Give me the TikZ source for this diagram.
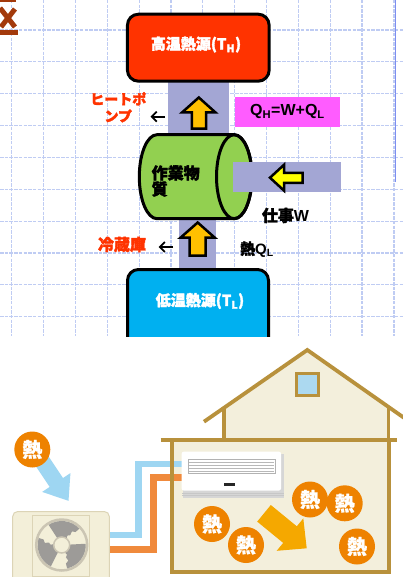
\documentclass[tikz,border=0pt]{standalone}
\usepackage{fontspec}
\setmainfont{Liberation Sans}
\newfontfamily\jpb{Noto Sans CJK JP}[FakeBold=2.2]
\newfontfamily\jpm{Noto Sans CJK JP}[FakeBold=1]
\usetikzlibrary{arrows.meta}

\definecolor{hotred}{HTML}{FF3300}
\definecolor{coldblue}{HTML}{00B0F0}
\definecolor{cylgreen}{HTML}{92D050}
\definecolor{band}{HTML}{A3A6D4}
\definecolor{qpink}{HTML}{FF5CFF}
\definecolor{heatgold}{HTML}{FFC000}
\definecolor{workyellow}{HTML}{FFFF00}
\definecolor{gridblue}{HTML}{BFCCF3}
\definecolor{ruleblue}{HTML}{7D8EF0}
\definecolor{iconbrown}{HTML}{A33A0C}
\definecolor{housetan}{HTML}{B8913C}
\definecolor{housecream}{HTML}{F3EFDC}
\definecolor{windowblue}{HTML}{ACD9F0}
\definecolor{pipeblue}{HTML}{9ED6F2}
\definecolor{pipeorange}{HTML}{F08A3C}
\definecolor{heatorange}{HTML}{EE8200}
\definecolor{flowarrow}{HTML}{F5A800}
\definecolor{unitcream}{HTML}{F3EFD9}
\definecolor{unitedge}{HTML}{DCD4B6}
\definecolor{fanring}{HTML}{CBC5B3}
\definecolor{fanblade}{HTML}{9D9B98}

\tikzset{
  gridline/.style={draw=gridblue, line width=1.2pt, dash pattern=on 3.5pt off 1.2pt},
  srcbox/.style={draw=black, line width=3pt, rounded corners=11pt, inner sep=0pt},
  blockarrow/.style={draw=black, line width=2.5pt, line join=miter},
  chev/.style={line width=1.8pt, -{Straight Barb[length=5pt,width=10pt]}},
  cjkbold/.style={font=\jpb\bfseries\fontsize{#1}{#1}\selectfont},
  redlabel/.style={text=hotred, align=center, font=\jpb\bfseries\fontsize{14}{17}\selectfont},
  heat/.style={circle, fill=heatorange, minimum size=36pt, inner sep=0pt, text=white,
    font=\jpm\bfseries\fontsize{20}{20}\selectfont},
  pipe/.style={line width=6.5pt, line join=miter},
  housetrim/.style={draw=housetan, line width=4pt},
}

\begin{document}
\begin{tikzpicture}[x=1pt, y=-1pt]
\useasboundingbox (0,0) rectangle (403,577);
\fill[white] (0,0) rectangle (403,577);

% ---------- slide part: background grid ----------
\begin{scope}
  \clip (0,0) rectangle (403,336);
  \foreach \i in {0,...,12}
    \draw[gridline] ({11.7+31.85*\i},0) -- ({11.7+31.85*\i},336);
  \foreach \j in {0,...,9}
    \draw[gridline] (0,{30+31.85*\j}) -- (403,{30+31.85*\j});
\end{scope}
\draw[ruleblue, line width=1.4pt] (395.7,0) -- (395.7,182);

% corner glyph fragment
\fill[iconbrown] (0,0) rectangle (16,2);
\fill[iconbrown] (0,30.5) rectangle (17.5,35.5);
\draw[iconbrown, line width=5pt] (0,8) -- (15,27);
\draw[iconbrown, line width=5pt] (15,9) -- (1,27);

% flow bands
\fill[band] (168,80) rectangle (229,140);
\fill[band] (179,212) rectangle (215.7,270);

% heat reservoirs
\node[srcbox, fill=hotred, minimum width=141.7pt, minimum height=67pt] (hot) at (198.3,47.7) {};
\node[cjkbold=15, text=white] (hotlabel) at (196,44.5) {高温熱源(\textbf{T}\textsubscript{\textbf{H}})};

\begin{scope}
  \clip (0,0) rectangle (403,336);
  \node[srcbox, fill=coldblue, minimum width=141pt, minimum height=80pt] (cold) at (198,309.5) {};
\end{scope}
\node[cjkbold=15, text=white] (coldlabel) at (200,301) {低温熱源(\textbf{T}\textsubscript{\textbf{L}})};

% working substance (cylinder)
\filldraw[fill=cylgreen, draw=black, line width=3pt]
  (157,134.7) -- (234.2,134.7)
  arc[start angle=-90, end angle=90, x radius=17.7, y radius=42]
  -- (157,218.7)
  arc[start angle=90, end angle=270, x radius=17.7, y radius=42] -- cycle;
\draw[line width=3pt] (234.2,176.7) ellipse[x radius=17.7, y radius=42];
\node[cjkbold=16, anchor=west, align=left, inner sep=0pt] (substance) at (151.5,181)
  {\fontsize{16}{19.5}\selectfont 作業物\\質};

% work input band and arrow
\fill[band] (233,162) rectangle (340.7,191.7);
\filldraw[blockarrow, fill=workyellow]
  (270,177.7) -- (284,164.8) -- (284,173) -- (302.7,173) -- (302.7,183)
  -- (284,183) -- (284,190.6) -- cycle;

% heat flow arrows
\filldraw[blockarrow, fill=heatgold]
  (198.8,97.5) -- (215.5,112.5) -- (206,112.5) -- (206,128.7)
  -- (191.8,128.7) -- (191.8,112.5) -- (182,112.5) -- cycle;
\filldraw[blockarrow, fill=heatgold]
  (197.7,222.5) -- (214.8,237.7) -- (205.5,237.7) -- (205.5,255.5)
  -- (189.5,255.5) -- (189.5,237.7) -- (180.5,237.7) -- cycle;

% labels
\node[fill=qpink, minimum width=105pt, minimum height=29.7pt, inner sep=0pt,
      font=\bfseries\fontsize{16}{16}\selectfont] (qh) at (287.5,111.8)
  {Q\textsubscript{H}=W+Q\textsubscript{L}};
\node[font=\bfseries\fontsize{16}{16}\selectfont] (work) at (285.5,215.5) {{\jpb 仕事}W};
\node[font=\bfseries\fontsize{15}{15}\selectfont] (ql) at (257,249.5) {{\jpb 熱}Q\textsubscript{L}};
\node[redlabel] (heatpump) at (118.3,107.3) {ヒートポ\\ンプ};
\node[redlabel, font=\jpb\bfseries\fontsize{16}{16}\selectfont] (fridge) at (122,244.5) {冷蔵庫};

\coordinate (hpFrom) at (165,116.7);
\coordinate (hpTo) at (150.5,116.7);
\draw[chev] (hpFrom) -- (hpTo);
\coordinate (frFrom) at (173,247);
\coordinate (frTo) at (158.5,247);
\draw[chev] (frFrom) -- (frTo);

% ---------- house illustration ----------
% upper storey
\fill[housecream] (224,407.8) -- (307.3,350) -- (388.3,406.3) -- (388.3,440) -- (224,440) -- cycle;
\draw[housetan, line width=3.8pt] (204,421.7) -- (307.3,350) -- (410,422);
\draw[housetan, line width=3.5pt] (224,407) -- (224,440);
\draw[housetan, line width=3.5pt] (388.3,406) -- (388.3,440);
\filldraw[fill=windowblue, draw=housetan, line width=3.5pt] (296.7,373.4) rectangle (318.3,395.6);

% ground floor
\fill[housecream] (171.7,440) rectangle (388.8,571.5);

% refrigerant pipes
\draw[pipe, pipeblue] (105,535) -- (138.3,535) -- (138.3,464) -- (186,464);
\draw[pipe, pipeorange] (105,549.3) -- (153.3,549.3) -- (153.3,477.7) -- (186,477.7);

\draw[housetrim] (171.7,440) rectangle (388.8,571.5);
\draw[housetan, line width=4.5pt] (160.7,440) -- (396.7,440);

% indoor unit
\fill[black!16] (183,454) rectangle (284,497.5);
\fill[white, rounded corners=2pt] (181.7,451.7) rectangle (281,490.5);
\draw[black!22, line width=0.8pt] (182,493) -- (283.5,493);
\draw[black!22, line width=0.8pt] (182,495.8) -- (283.8,495.8);
\filldraw[fill=white, draw=black!30, line width=1pt] (188.3,459.3) rectangle (275,473.3);
\foreach \yy in {462.3,465.3,468.3,471}
  \draw[black!28, line width=0.9pt] (189,\yy) -- (274.3,\yy);
\fill[black!85] (224.3,482.7) rectangle (235,485.7);

% outdoor unit
\filldraw[fill=unitcream, draw=unitedge, line width=1pt, rounded corners=5pt] (12.7,511.5) rectangle (109.3,590);
\draw[unitedge, line width=1pt] (32.7,515) rectangle (89.3,576.5);
\filldraw[fill=unitcream, draw=fanring, line width=2.5pt] (61.7,545) circle[radius=25.5];
\foreach \ang in {75,195,315}{
  \begin{scope}[shift={(61.7,545)}, rotate=\ang]
    \fill[fanblade] (-48:8) -- (-48:24) arc[start angle=-48, end angle=32, radius=24]
      -- (32:19) -- (22:17) -- (26:13) -- (16:11) -- (22:8) -- cycle;
  \end{scope}
}
\filldraw[fill=unitcream, draw=fanring, line width=1.5pt] (61.7,545) circle[radius=8];

% outside heat being drawn in
\fill[pipeblue] (31.3,459.4) -- (49.64,486.94) -- (42.16,491.93) -- (68.5,500.8)
  -- (70.44,473.07) -- (62.96,478.06) -- (44.7,450.6) -- cycle;
\node[heat] (heatout) at (32.3,449.5) {熱};

% heat released indoors
\fill[flowarrow] (257.2,521.6) -- (283.2,542.9) -- (276.7,550.8) -- (306.7,548.3)
  -- (303.3,518.4) -- (296.8,526.3) -- (270.8,505) -- cycle;
\node[heat] (heatA) at (212,524) {熱};
\node[heat] (heatB) at (246,545) {熱};
\node[heat] (heatC) at (310,499.5) {熱};
\node[heat] (heatD) at (344.7,503.3) {熱};
\node[heat] (heatE) at (357,546.5) {熱};
\end{tikzpicture}
\end{document}
